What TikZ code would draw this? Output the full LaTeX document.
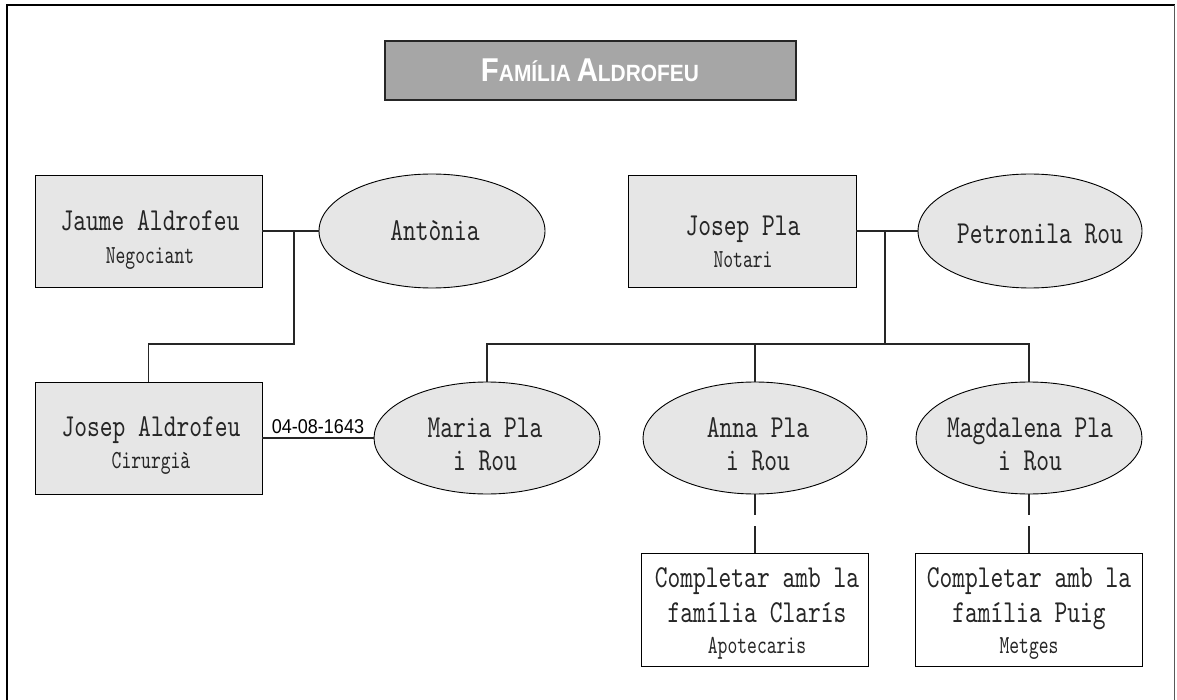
\documentclass[tikz,border=0pt]{standalone}
\usepackage{fontspec}
\usetikzlibrary{shapes.geometric}
\newfontfamily\nmfont{lmmono10-regular.otf}[FakeStretch=0.76]
\newfontfamily\sbfont{lmmono10-regular.otf}[FakeStretch=0.72]
\newfontfamily\ttlfont{Liberation Sans}[FakeStretch=0.89]
\newfontfamily\datefont{Liberation Sans}[FakeStretch=0.9]
\definecolor{boxgray}{RGB}{230,230,230}
\definecolor{titlegray}{RGB}{166,166,166}
\begin{document}
\begin{tikzpicture}[x=1pt,y=-1pt,
  box/.style={draw, fill=boxgray, line width=0.9pt, inner sep=0pt, minimum width=227pt, minimum height=112pt},
  wbox/.style={draw, fill=white, line width=0.9pt, inner sep=0pt, minimum width=227pt, minimum height=113pt},
  oval/.style={ellipse, draw, fill=boxgray, line width=0.9pt, inner sep=0pt, minimum width=225pt, minimum height=113pt},
  nm/.style={anchor=base, inner sep=0pt, text=black!85, font=\nmfont\fontsize{32}{36}\selectfont},
  sb/.style={anchor=base, inner sep=0pt, text=black!85, font=\sbfont\fontsize{26}{30}\selectfont},
  conn/.style={line width=1.2pt, draw=black!85},
  datelbl/.style={inner sep=0pt, font=\datefont\fontsize{20}{23}\selectfont}]
\useasboundingbox (0,0) rectangle (1177,700);
% frame
\draw[line width=2pt] (6.5,700) -- (6.5,5.5) -- (1174.5,5.5);
\draw[line width=1.5pt, black!65] (1174.5,5.5) -- (1174.5,700);
% title
\node[draw=black!85, fill=titlegray, line width=2.5pt, minimum width=411pt, minimum height=59pt, inner sep=0pt] (title) at (590.5,70.5) {};
\node[anchor=base, inner sep=0pt, text=white, font=\ttlfont\bfseries] (titletxt) at (590,82)
  {{\fontsize{33}{36}\selectfont F}{\fontsize{23.5}{26}\selectfont AMÍLIA }{\fontsize{33}{36}\selectfont A}{\fontsize{23.5}{26}\selectfont LDROFEU}};
% shapes
\node[box] (jaume) at (148.5,231) {};
\node[oval, minimum width=226pt, minimum height=114pt] (antonia) at (432,231) {};
\node[box, minimum width=228pt] (jpla) at (742,231) {};
\node[oval, minimum width=224pt, minimum height=114pt] (petronila) at (1030,231) {};
\node[box] (jald) at (148.5,438) {};
\node[oval, minimum width=226pt, minimum height=112pt] (maria) at (487,438) {};
\node[oval, minimum width=224pt, minimum height=112pt] (anna) at (755,438) {};
\node[oval, minimum width=226pt, minimum height=112pt] (magda) at (1029,438) {};
\node[wbox] (clar) at (755,609.5) {};
\node[wbox] (puig) at (1029,609.5) {};
% texts
\node[nm] (t1) at (150,231) {Jaume Aldrofeu};
\node[sb] (t1b) at (150,264) {Negociant};
\node[nm] (t2) at (435,241) {Antònia};
\node[nm] (t3) at (743,236) {Josep Pla};
\node[sb] (t3b) at (743,268) {Notari};
\node[nm] (t4) at (1040,244) {Petronila Rou};
\node[nm] (t5) at (151,436) {Josep Aldrofeu};
\node[sb] (t5b) at (151,468) {Cirurgià};
\node[nm] (t6) at (485,437) {Maria Pla};
\node[nm] (t6b) at (485,470) {i Rou};
\node[nm] (t7) at (758,437) {Anna Pla};
\node[nm] (t7b) at (758,470) {i Rou};
\node[nm] (t8) at (1030,437) {Magdalena Pla};
\node[nm] (t8b) at (1030,470) {i Rou};
\node[nm] (t9) at (757,587) {Completar amb la};
\node[nm] (t9b) at (757,622) {família Clarís};
\node[sb] (t9c) at (757,653) {Apotecaris};
\node[nm] (t10) at (1029,587) {Completar amb la};
\node[nm] (t10b) at (1029,622) {família Puig};
\node[sb] (t10c) at (1029,653) {Metges};
% connectors
\coordinate (lj) at (294,231);
\coordinate (ljd) at (294,344);
\coordinate (rj) at (885,231);
\coordinate (rjd) at (885,344);
\draw[conn] (jaume.east) -- (antonia.west);
\draw[conn] (lj) -- (ljd) -| (jald.north);
\draw[conn] (jpla.east) -- (petronila.west);
\draw[conn] (rj) -- (rjd);
\draw[conn] (maria.north) -- (maria.north |- rjd) -- (magda.north |- rjd) -- (magda.north);
\draw[conn] (anna.north) -- (anna.north |- rjd);
\draw[conn] (jald.east) -- node[datelbl, above=4pt] (date) {04-08-1643} (maria.west);
\draw[conn, dash pattern=on 21pt off 11pt on 80pt off 1pt] (anna.south) -- (clar.north);
\draw[conn, dash pattern=on 21pt off 11pt on 80pt off 1pt] (magda.south) -- (puig.north);
\end{tikzpicture}
\end{document}
